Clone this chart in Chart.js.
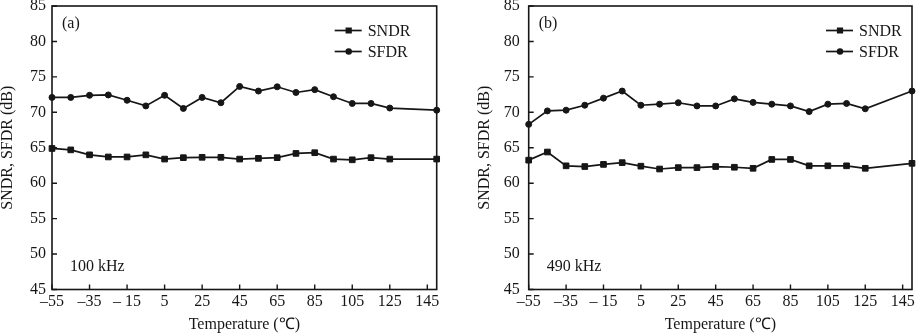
<!DOCTYPE html>
<html>
<head>
<meta charset="utf-8">
<script src="https://cdn.jsdelivr.net/npm/chart.js@4"></script>
<style>
  html, body { margin: 0; padding: 0; background: #fff; }
  #wrap { position: relative; width: 917px; height: 334px; overflow: hidden; }
  canvas { position: absolute; top: 0; }
  #chart-a { left: 0; }
  #chart-b { left: 458px; }
</style>
</head>
<body>
<div id="wrap">
  <canvas id="chart-a" width="458" height="334"></canvas>
  <canvas id="chart-b" width="459" height="334"></canvas>
</div>
<script>
// temperature points (°C)
const temps = [-55, -45, -35, -25, -15, -5, 5, 15, 25, 35, 45, 55, 65, 75, 85, 95, 105, 115, 125, 150];

// (a) 100 kHz
const sndrA = [64.9, 64.7, 64.0, 63.7, 63.7, 64.0, 63.4, 63.6, 63.65, 63.65, 63.4, 63.5, 63.6, 64.2, 64.3, 63.4, 63.3, 63.6, 63.4, 63.4];
const sfdrA = [72.1, 72.1, 72.4, 72.45, 71.7, 70.9, 72.4, 70.55, 72.1, 71.35, 73.65, 73.0, 73.6, 72.8, 73.2, 72.2, 71.25, 71.25, 70.6, 70.3];

// (b) 490 kHz
const sndrB = [63.25, 64.4, 62.45, 62.35, 62.65, 62.9, 62.4, 62.0, 62.2, 62.2, 62.35, 62.25, 62.1, 63.35, 63.35, 62.45, 62.45, 62.45, 62.1, 62.8];
const sfdrB = [68.3, 70.2, 70.3, 71.0, 72.0, 73.0, 71.0, 71.15, 71.35, 70.9, 70.9, 71.9, 71.4, 71.15, 70.9, 70.1, 71.15, 71.25, 70.5, 73.0];

const xTicks = [-55, -35, -15, 5, 25, 45, 65, 85, 105, 125, 145];
const xTickLabels = ["–55", "–35", "– 15", "5", "25", "45", "65", "85", "105", "125", "145"];
const yMin = 45, yMax = 85, yStep = 5;

const seriesNames = ["SNDR", "SFDR"];
const xTitle = "Temperature (℃)";
const yTitle = "SNDR, SFDR (dB)";

const FONT = "'Liberation Serif', 'Times New Roman', serif";
const INK = "#161616";

// frame, inward ticks, legend and panel labels
const decorPlugin = {
  id: "decor",
  afterDatasetsDraw(chart, args, o) {
    const { ctx, chartArea: a, scales } = chart;
    ctx.save();
    ctx.strokeStyle = INK;
    ctx.lineWidth = 1.6;
    ctx.strokeRect(a.left, a.top, a.right - a.left, a.bottom - a.top);

    ctx.lineWidth = 1.4;
    ctx.beginPath();
    for (const t of scales.x.ticks) {
      const px = scales.x.getPixelForValue(t.value);
      ctx.moveTo(px, a.bottom);
      ctx.lineTo(px, a.bottom - 5);
    }
    for (const t of scales.y.ticks) {
      const py = scales.y.getPixelForValue(t.value);
      ctx.moveTo(a.left, py);
      ctx.lineTo(a.left + 5, py);
    }
    ctx.stroke();

    // legend inside the plot, top right
    ctx.font = `16px ${FONT}`;
    ctx.fillStyle = INK;
    ctx.textBaseline = "middle";
    chart.data.datasets.forEach((ds, i) => {
      const y = o.legendY + i * 21;
      const x0 = a.right - o.legendRight;
      ctx.strokeStyle = INK;
      ctx.lineWidth = 1.7;
      ctx.beginPath();
      ctx.moveTo(x0, y);
      ctx.lineTo(x0 + 27, y);
      ctx.stroke();
      ctx.fillStyle = INK;
      Chart.helpers.drawPoint(ctx, {
        pointStyle: ds.pointStyle,
        radius: ds.pointRadius * 0.8,
        borderWidth: 1,
        rotation: 0,
      }, x0 + 14, y);
      ctx.fillText(ds.label, x0 + 33, y + 1);
    });

    ctx.fillText(o.tag, a.left + 10, 24);
    ctx.fillText(o.freq, a.left + 18, 267);
    ctx.restore();
  },
};

function makeChart(id, sndr, sfdr, yWidth, padRight, decor) {
  const pts = (vals) => temps.map((t, i) => ({ x: t, y: vals[i] }));
  const common = {
    borderColor: INK,
    backgroundColor: INK,
    borderWidth: 1.7,
    pointBorderColor: INK,
    pointBackgroundColor: INK,
    pointBorderWidth: 1,
    tension: 0,
    clip: false,
  };
  return new Chart(document.getElementById(id), {
    type: "line",
    data: {
      datasets: [
        { ...common, label: seriesNames[0], data: pts(sndr), pointStyle: "rect", pointRadius: 4 },
        { ...common, label: seriesNames[1], data: pts(sfdr), pointStyle: "circle", pointRadius: 3 },
      ],
    },
    options: {
      responsive: false,
      devicePixelRatio: 1,
      animation: false,
      events: [],
      layout: { padding: { top: 6, right: padRight, left: 0, bottom: 0 } },
      plugins: {
        legend: { display: false },
        tooltip: { enabled: false },
        decor,
      },
      scales: {
        x: {
          type: "linear",
          min: -55,
          max: 150,
          grid: { display: false, drawTicks: false },
          border: { display: false },
          afterBuildTicks: (s) => {
            s.ticks = xTicks.map((v) => ({ value: v }));
          },
          afterFit: (s) => {
            s.height = 44.5;
            s.paddingLeft = 0;
            s.paddingRight = 0;
          },
          ticks: {
            autoSkip: false,
            maxRotation: 0,
            padding: 4,
            color: INK,
            font: { family: FONT, size: 16, lineHeight: 1 },
            callback: (v, i) => xTickLabels[i],
          },
          title: {
            display: true,
            text: xTitle,
            color: INK,
            padding: { top: 0, bottom: 1 },
            font: { family: FONT, size: 16, lineHeight: 1 },
          },
        },
        y: {
          min: yMin,
          max: yMax,
          grid: { display: false, drawTicks: false },
          border: { display: false },
          afterFit: (s) => {
            s.width = yWidth;
            s.paddingTop = 0;
            s.paddingBottom = 0;
          },
          ticks: {
            stepSize: yStep,
            padding: yWidth > 60 ? 9 : 6,
            color: INK,
            font: { family: FONT, size: 16, lineHeight: 1 },
          },
          title: {
            display: true,
            text: yTitle,
            color: INK,
            padding: { top: yWidth > 60 ? 19 : 0, bottom: 0 },
            font: { family: FONT, size: 16, lineHeight: 1 },
          },
        },
      },
    },
    plugins: [decorPlugin],
  });
}

makeChart("chart-a", sndrA, sfdrA, 52, 21.3, { tag: "(a)", freq: "100 kHz", legendRight: 102, legendY: 30.5 });
makeChart("chart-b", sndrB, sfdrB, 70.7, 4, { tag: "(b)", freq: "490 kHz", legendRight: 86, legendY: 30.5 });
</script>
</body>
</html>
